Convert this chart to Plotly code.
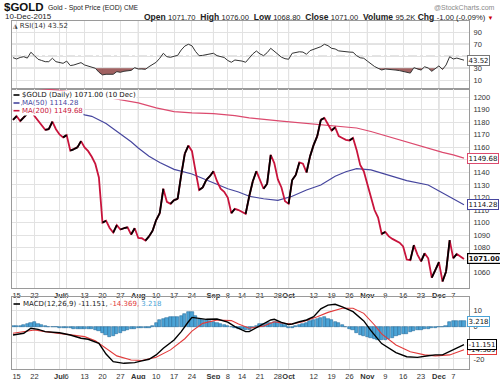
import plotly.graph_objects as go

# ---------------- data ----------------
# trading-day index 0 = 12-Jun-2015 ... 126 = 10-Dec-2015
day_idx = list(range(127))

close = [1182, 1185, 1181, 1184, 1187, 1190, 1185, 1181, 1177, 1174,
         1174.5, 1180.5, 1174.5, 1170.3, 1168, 1169.8, 1157.5, 1158.5, 1160, 1165,
         1160, 1157, 1152.5, 1146.8, 1136, 1100, 1101.5, 1095.7, 1092, 1098,
         1094.5, 1095.5, 1096.2, 1090.5, 1095.5, 1087.7, 1087.5, 1085.6, 1089, 1093.5,
         1102, 1107.5, 1127, 1116.5, 1115, 1118, 1119, 1138, 1155, 1161.5,
         1157, 1141, 1126, 1128, 1134, 1137, 1141, 1133, 1127, 1124.5,
         1120, 1107.5, 1111, 1110, 1108.5, 1107, 1121, 1133, 1141, 1134,
         1127, 1131, 1154, 1147.5, 1134.5, 1128, 1117, 1115, 1134, 1138,
         1148, 1147, 1140, 1153, 1162, 1169, 1182, 1183.5, 1178.5, 1173.5,
         1176, 1169, 1167.5, 1166, 1165.5, 1167.5, 1158, 1146, 1141, 1131,
         1119, 1110, 1104, 1091, 1092.5, 1089, 1087, 1085.5, 1084, 1081,
         1070.5, 1070, 1082, 1074.5, 1069, 1075.5, 1071.5, 1056, 1062, 1068.5,
         1053, 1061, 1086, 1071.5, 1075, 1073, 1071]

ma50_x = [0, 5, 10, 15, 18, 20, 22, 26, 30, 33, 35, 38, 41, 45, 50, 55, 60, 63, 66,
          70, 74, 78, 82, 86, 90, 93, 96, 100, 104, 110, 116, 120, 123, 126]
ma50 = [1195, 1193, 1191.5, 1189.5, 1188, 1186, 1184.8, 1179, 1171, 1164.5, 1159.5,
        1153, 1148, 1142.5, 1138.8, 1133, 1127, 1124.4, 1121, 1119, 1117.8, 1121,
        1126, 1130, 1137, 1140.6, 1143, 1142, 1138.8, 1133.5, 1130, 1123.5, 1119, 1114.28]

ma200_x = [0, 10, 13, 20, 25, 30, 33, 35, 40, 45, 50, 56, 62, 66, 75, 84, 90, 96,
           100, 105, 110, 115, 120, 123, 126]
ma200 = [1209, 1206.3, 1205.5, 1203, 1200.5, 1198.5, 1197, 1195.5, 1191.5, 1188.5,
         1187.5, 1187, 1185.3, 1183.5, 1181, 1178.7, 1177.3, 1175.5, 1172.7, 1168.5,
         1164, 1160, 1156, 1154, 1151.5]

rsi = [47.7, 45.5, 48, 49.3, 47, 56.7, 51, 45, 43, 41,
       41, 46.7, 41, 39, 38.3, 42, 34.5, 35.5, 37, 39.4,
       35.5, 33.5, 32, 30, 23.5, 19, 20, 20, 20, 24.4,
       23.3, 25, 25.5, 26.5, 31, 28.8, 28.8, 28.3, 32.7, 37,
       40, 46.7, 55, 49.3, 48.3, 50, 51.5, 60.5, 67, 70,
       67.5, 58, 51, 51.5, 53, 54, 55, 51, 49, 48,
       43, 40, 43.8, 43, 42, 40, 48, 54, 58.8, 54,
       51, 56, 63.3, 58, 53, 48.5, 46, 45, 55, 56.7,
       57.5, 57, 53.3, 59.4, 62, 64, 66, 70, 67.7, 63.3,
       62.2, 59, 58, 57.7, 57, 56.7, 51, 47.5, 46.7, 42,
       37, 33, 30, 27.2, 28.8, 28.5, 28.3, 27, 26.1, 24.8,
       22.5, 22, 31, 28.5, 27, 32.5, 30.5, 25, 30, 34,
       28, 35.5, 49.3, 45.5, 47, 45.5, 43.52]

macd_x = [0, 3, 5, 7, 9, 13, 16, 19, 21, 24, 26, 28, 31, 34, 36, 38, 40, 42, 45, 47,
          49, 50, 52, 54, 57, 60, 62, 65, 66, 69, 72, 73, 75, 77, 78, 80, 82, 84, 86,
          88, 90, 92, 95, 98, 100, 103, 107, 110, 113, 116, 118, 120, 122, 124, 126]
macd = [-5.2, -4.1, -1.0, -1.7, -3.1, -3.8, -5.2, -7.2, -7.8, -10.3, -17, -21.7, -22.7,
        -22.3, -21.2, -20.2, -17.5, -13.4, -8.3, -3.1, 3.0, 5.7, 5.1, 4.5, 4.7, 2.8, 0,
        -3.1, -3.1, 0.4, 4.1, 4.5, 2.6, 1.3, 1.6, 3, 4.1, 6.1, 11, 13.3, 13.8, 12.2, 9.2,
        3.5, -2.5, -10.5, -16.1, -18.6, -19, -18, -17.5, -17.5, -15.5, -13.4, -11.151]

signal_x = [0, 6, 9, 15, 20, 23, 26, 29, 33, 36, 40, 44, 48, 50, 53, 57, 61, 63, 66,
            70, 73, 75, 78, 81, 85, 88, 92, 95, 98, 101, 103, 107, 111, 115, 118, 122, 126]
signal = [-4.1, -2.1, -3.1, -4.6, -6.2, -8.7, -13.4, -18.1, -20.6, -21, -19, -14.4,
          -7.5, -2.8, 2.0, 4.1, 3.7, 1.6, -1.0, 0.4, 3.0, 2.2, 1.6, 3.0, 6.1, 8.8, 11.3,
          11.3, 8.2, 1.0, -4.5, -11.4, -15.5, -17.5, -18.1, -17.5, -14.369]

hist = [0.3, 0.5, 0.6, 0.8, 1.5, 2.4, 2.6, 1.8, 1.2, 0.3,
        -0.2, -0.4, -0.5, -0.6, -0.6, -0.8, -1.0, -1.3, -1.4, -1.4,
        -1.3, -1.2, -1.3, -1.8, -2.5, -4.1, -5.0, -6.6, -6.0, -4.7,
        -3.8, -2.8, -2.0, -1.6, -1.2, -1.0, -0.9, -0.7, -0.6, 0.3,
        2.0, 4.0, 5.0, 5.5, 5.7, 5.8, 6.0, 6.8, 8.0, 9.0,
        9.2, 6.5, 5.0, 4.2, 3.8, 3.3, 3.1, 2.4, 1.8, 1.0,
        0.4, -0.2, -0.9, -1.3, -1.7, -2.0, -1.8, -1.0, 0.3, 1.4,
        1.8, 2.2, 2.5, 2.8, 3.0, 2.2, 1.2, -0.6, -1.0, 0.2,
        0.8, 1.6, 2.4, 3.2, 3.8, 4.5, 5.3, 5.7, 4.8, 4.1,
        2.8, 2.0, 0.8, 0.0, -1.6, -2.2, -4.0, -5.0, -5.8, -6.6,
        -7.2, -7.8, -8.3, -8.4, -8.1, -7.6, -6.8, -6.0, -5.3, -4.8,
        -4.3, -3.6, -2.8, -2.3, -1.9, -1.6, -1.3, -1.0, -0.8, -0.5,
        -0.2, 0.2, 3.0, 3.3, 3.5, 3.4, 3.218]

tick_idx = [1, 6, 13, 15, 20, 25, 30, 35, 40, 45, 50, 56, 60, 64, 69, 74, 77,
            84, 89, 94, 99, 104, 109, 114, 119, 123]
tick_text = ["15", "22", "<b>Jul</b>", "6", "13", "20", "27", "<b>Aug</b>", "10", "17",
             "24", "<b>Sep</b>", "8", "14", "21", "28", "<b>Oct</b>", "12", "19", "26",
             "<b>Nov</b>", "9", "16", "23", "<b>Dec</b>", "7"]
month_idx = [13, 35, 56, 77, 99, 119]

# axis ticks; labels hidden behind the value tags in the reference are left blank
price_ticks = list(range(1060, 1201, 10))
price_tick_text = ["" if v in (1070, 1150) else str(v) for v in price_ticks]
rsi_ticks = [10, 30, 50, 70, 90]
rsi_tick_text = ["10", "30", "", "70", "90"]
macd_ticks = [-20, -10, 0, 10]
macd_tick_text = ["-20", "", "0", "10"]

# ---------------- styling ----------------
W, H = 500, 379
ARIAL = "Liberation Sans, Arial, sans-serif"
DEJAVU = "DejaVu Sans, Verdana, sans-serif"
RED = "#c8143c"
MA200_C = "#dc4a6e"
MA50_C = "#46469e"
HIST_C = "#4aa3d6"
GRID = "#e2e2e2"
BORDER = "#9a9a9a"

X_DOM = [12 / W, 469 / W]
RSI_DOM = [1 - 88.5 / H, 1 - 21 / H]
PRICE_DOM = [1 - 288 / H, 1 - 88.5 / H]
MACD_DOM = [1 - 368.5 / H, 1 - 297 / H]
XR = [-0.28, 127.4]

fig = go.Figure()

# ---- RSI panel ----
fx, fy = [], []
for i, v in enumerate(rsi):
    if i > 0:
        a = rsi[i - 1]
        if (a - 30) * (v - 30) < 0:
            t = (30 - a) / (v - a)
            fx.append(day_idx[i - 1] + t)
            fy.append(30)
    fx.append(day_idx[i])
    fy.append(min(v, 30))
fig.add_trace(go.Scatter(x=[day_idx[0], day_idx[-1]], y=[30, 30], mode="lines",
                         line=dict(width=0), xaxis="x", yaxis="y", hoverinfo="skip"))
fig.add_trace(go.Scatter(x=fx, y=fy, mode="lines", line=dict(width=0), fill="tonexty",
                         fillcolor="rgba(145,70,70,0.85)", xaxis="x", yaxis="y", hoverinfo="skip"))
fig.add_trace(go.Scatter(x=day_idx, y=rsi, mode="lines", line=dict(color="#333", width=1),
                         xaxis="x", yaxis="y"))

# ---- price panel ----
fig.add_trace(go.Scatter(x=ma200_x, y=ma200, mode="lines", line=dict(color=MA200_C, width=1.2),
                         xaxis="x2", yaxis="y2"))
fig.add_trace(go.Scatter(x=ma50_x, y=ma50, mode="lines", line=dict(color=MA50_C, width=1.2),
                         xaxis="x2", yaxis="y2"))
fig.add_trace(go.Scatter(x=day_idx, y=close, mode="lines", line=dict(color=RED, width=1.8),
                         xaxis="x2", yaxis="y2"))
ux, uy = [], []
for i in range(1, len(close)):
    if close[i] >= close[i - 1]:
        ux += [day_idx[i - 1], day_idx[i], None]
        uy += [close[i - 1], close[i], None]
fig.add_trace(go.Scatter(x=ux, y=uy, mode="lines", line=dict(color="#000", width=1.8),
                         xaxis="x2", yaxis="y2", connectgaps=False))

# ---- MACD panel ----
fig.add_trace(go.Bar(x=day_idx, y=hist, width=0.9, marker=dict(color=HIST_C, line=dict(color="#2a6f9e", width=0.6)),
                     xaxis="x3", yaxis="y3"))
fig.add_trace(go.Scatter(x=signal_x, y=signal, mode="lines", line=dict(color="#e23a3a", width=1.1),
                         xaxis="x3", yaxis="y3"))
fig.add_trace(go.Scatter(x=macd_x, y=macd, mode="lines", line=dict(color="#000", width=1.4),
                         xaxis="x3", yaxis="y3"))

tickfont = dict(size=7.5, family=ARIAL, color="#333")
xcommon = dict(range=XR, domain=X_DOM, tickmode="array", tickvals=tick_idx, ticktext=tick_text,
               showgrid=True, gridcolor=GRID, gridwidth=1, zeroline=False, showline=True,
               mirror=True, linecolor=BORDER, linewidth=1, ticks="", ticklen=0, tickfont=tickfont,
               fixedrange=True, tickangle=0, ticklabelstandoff=0)
ycommon = dict(side="right", showgrid=True, gridcolor=GRID, zeroline=False, showline=True,
               mirror=True, linecolor=BORDER, linewidth=1, ticks="", ticklen=0, tickfont=tickfont,
               fixedrange=True, ticklabelstandoff=2)

fig.update_layout(
    width=W, height=H, margin=dict(l=0, r=0, t=0, b=0, autoexpand=False),
    paper_bgcolor="white", plot_bgcolor="white", showlegend=False, bargap=0,
    xaxis=dict(**xcommon, anchor="y", showticklabels=False),
    xaxis2=dict(**xcommon, anchor="y2", showticklabels=True),
    xaxis3=dict(**xcommon, anchor="y3", showticklabels=True),
    yaxis=dict(**ycommon, domain=RSI_DOM, range=[-3.7, 108.8], anchor="x",
               tickmode="array", tickvals=rsi_ticks, ticktext=rsi_tick_text),
    yaxis2=dict(**ycommon, domain=PRICE_DOM, range=[1047.8, 1207], anchor="x2",
                tickmode="array", tickvals=price_ticks, ticktext=price_tick_text),
    yaxis3=dict(**ycommon, domain=MACD_DOM, range=[-25.9, 18.3], anchor="x3",
                tickmode="array", tickvals=macd_ticks, ticktext=macd_tick_text),
)

shapes = []
# RSI reference lines
for lvl in (70, 30):
    shapes.append(dict(type="line", xref="x domain", yref="y", x0=0, x1=1, y0=lvl, y1=lvl,
                       line=dict(color="#8a8a8a", width=1), layer="below"))
shapes.append(dict(type="line", xref="x domain", yref="y", x0=0, x1=1, y0=50, y1=50,
                   line=dict(color="#8a8a8a", width=1, dash="dashdot"), layer="below"))
# darker month grid lines
for ax, yax in (("x", "y"), ("x2", "y2"), ("x3", "y3")):
    for m in month_idx:
        shapes.append(dict(type="line", xref=ax, yref=yax + " domain", x0=m, x1=m, y0=0, y1=1,
                           line=dict(color="#c4c4c4", width=1), layer="below"))
# legend cover + dashes in price panel
shapes.append(dict(type="rect", xref="paper", yref="paper", x0=12.6 / W, x1=21 / W,
                   y0=1 - 114.5 / H, y1=1 - 90.5 / H, fillcolor="white", line=dict(width=0), layer="above"))
for yy, col in ((95, "#000"), (103, MA50_C), (110.7, RED)):
    shapes.append(dict(type="line", xref="paper", yref="paper", x0=13.5 / W, x1=19.5 / W,
                       y0=1 - yy / H, y1=1 - yy / H, line=dict(color=col, width=1.6), layer="above"))
shapes.append(dict(type="line", xref="paper", yref="paper", x0=13.5 / W, x1=20 / W,
                   y0=1 - 304 / H, y1=1 - 304 / H, line=dict(color="#000", width=1.6), layer="above"))
fig.update_layout(shapes=shapes)


def ann(text, x, y, size=8, color="#222", family=ARIAL, xanchor="left", **kw):
    d = dict(text=text, x=x / W, y=1 - y / H, xref="paper", yref="paper", showarrow=False,
             xanchor=xanchor, yanchor="middle", font=dict(size=size, color=color, family=family))
    d.update(kw)
    fig.add_annotation(**d)


# header
ann("<b>$GOLD</b>", 1.5, 7, size=11.5, color="#111")
ann("Gold - Spot Price (EOD)", 46, 7.5, size=6.9, color="#222")
ann("CME", 122, 8, size=6.3, color="#222")
ann("@StockCharts.com", 497, 7, size=7, color="#8a8a8a", xanchor="right")
ann("10-Dec-2015", 2.5, 16.5, size=8, color="#222")
vs = "<span style='font-size:7.6px'>"
ann("<b>Open</b> " + vs + "1071.70</span>  <b>High</b> " + vs + "1076.00</span>  <b>Low</b> " + vs +
    "1068.80</span>  <b>Close</b> " + vs + "1071.00</span>  <b>Volume</b> " + vs +
    "95.2K</span> <b>Chg</b> " + vs + "-1.00 (-0.09%)</span> <span style='color:#cc0000;font-size:6px'>▼</span>",
    496, 16.5, size=8.5, color="#222", xanchor="right")

# panel legends
ann("<span style='font-size:6px'>◮</span> RSI(14) 43.52", 11, 26, size=7, family=DEJAVU, color="#333")
ann("$GOLD (Daily) 1071.00 (10 Dec)", 20.5, 95, size=7, family=DEJAVU, color="#111",
    bgcolor="white", borderpad=0)
ann("MA(50) 1114.28", 20.5, 103, size=7, family=DEJAVU, color=MA50_C, bgcolor="white", borderpad=0)
ann("MA(200) 1149.68", 20.5, 110.7, size=7, family=DEJAVU, color=RED, bgcolor="white", borderpad=0)
ann("MACD(12,26,9) -11.151, <span style='color:#e23a3a'>-14.369,</span> "
    "<span style='color:#4aa3d6'>3.218</span>", 21, 304, size=7, family=DEJAVU, color="#222")


# value tags on the right edge
def tag(text, yref, val, border, bold=False, bw=1, size=7):
    fig.add_annotation(text=("<b>%s</b>" % text) if bold else text, x=467 / W, xref="paper",
                       y=val, yref=yref, showarrow=False, xanchor="left", yanchor="middle",
                       font=dict(size=size, family=DEJAVU, color="#111"), bgcolor="white",
                       bordercolor=border, borderwidth=bw, borderpad=0.5)


tag("43.52", "y", rsi[-1], "#777")
tag("1149.68", "y2", ma200[-1], MA200_C)
tag("1114.28", "y2", ma50[-1], MA50_C)
tag("1071.00", "y2", close[-1], "#000", bold=True, bw=1.2, size=6.8)
tag("3.218", "y3", hist[-1], HIST_C)
tag("-14.369", "y3", signal[-1], "#e23a3a")
tag("-11.151", "y3", macd[-1], "#000")

fig.write_html("out.html", config={"displayModeBar": False},
               post_script="document.body.style.margin='0';document.body.style.padding='0';")
